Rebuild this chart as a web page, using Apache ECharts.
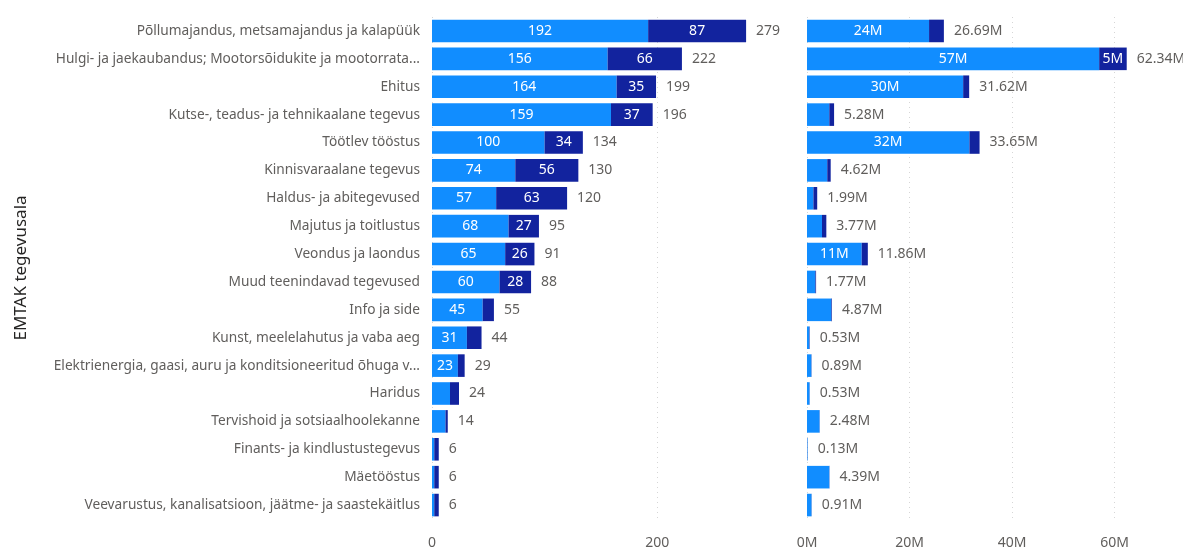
<!DOCTYPE html>
<html>
<head>
<meta charset="utf-8">
<script src="https://cdn.jsdelivr.net/npm/echarts@6/dist/echarts.min.js"></script>
<style>
  html, body { margin: 0; padding: 0; background: #fff; }
  #chart { width: 1183px; height: 550px; }
</style>
</head>
<body>
<div id="chart"></div>
<script>
// EMTAK tegevusalad (ülevalt alla)
const categories = [
  'Põllumajandus, metsamajandus ja kalapüük',
  'Hulgi- ja jaekaubandus; Mootorsõidukite ja mootorrata...',
  'Ehitus',
  'Kutse-, teadus- ja tehnikaalane tegevus',
  'Töötlev tööstus',
  'Kinnisvaraalane tegevus',
  'Haldus- ja abitegevused',
  'Majutus ja toitlustus',
  'Veondus ja laondus',
  'Muud teenindavad tegevused',
  'Info ja side',
  'Kunst, meelelahutus ja vaba aeg',
  'Elektrienergia, gaasi, auru ja konditsioneeritud õhuga v...',
  'Haridus',
  'Tervishoid ja sotsiaalhoolekanne',
  'Finants- ja kindlustustegevus',
  'Mäetööstus',
  'Veevarustus, kanalisatsioon, jäätme- ja saastekäitlus'
];

// vasak paneel – arv (hele + tume)
const countLight = [192, 156, 164, 159, 100, 74, 57, 68, 65, 60, 45, 31, 23, 16, 12, 2, 2, 2];
const countDark  = [87, 66, 35, 37, 34, 56, 63, 27, 26, 28, 10, 13, 6, 8, 2, 4, 4, 4];

// parem paneel – miljonites (hele + tume)
const turnoverLight = [23.8, 56.97, 30.45, 4.35, 31.67, 3.95, 1.25, 2.93, 10.67, 1.63, 4.75, 0.45, 0.85, 0.5, 2.45, 0.1, 4.35, 0.88];
const turnoverDark  = [2.89, 5.37, 1.17, 0.93, 1.98, 0.67, 0.74, 0.84, 1.19, 0.14, 0.12, 0.08, 0.04, 0.03, 0.03, 0.03, 0.04, 0.03];

const countTicks = [0, 200];
const turnoverTicks = [0, 20, 40, 60];

const LIGHT = '#118DFF';
const DARK = '#12239E';
const GREY = '#605E5C';
const FONT = "'Segoe UI', 'Noto Sans', sans-serif";

const chart = echarts.init(document.getElementById('chart'));

const splitLine = {
  show: true, showMinLine: true, showMaxLine: false,
  lineStyle: { color: '#D6D6D6', type: [1, 4], width: 1 }
};

const inside = (min, fmt) => ({
  show: true, position: 'inside', color: '#fff', fontSize: 14, fontFamily: FONT,
  formatter: p => (p.value >= min ? fmt(p.value) : '')
});

chart.setOption({
  animation: false,
  grid: [
    { left: 432, top: 17, width: 349, bottom: 28 },
    { left: 807, top: 17, width: 359, bottom: 28 }
  ],
  xAxis: [
    {
      gridIndex: 0, type: 'value', min: 0, max: 310, interval: 200,
      axisLine: { show: false }, axisTick: { show: false },
      axisLabel: { color: GREY, fontSize: 14, fontFamily: FONT, margin: 17, showMaxLabel: false,
        formatter: v => (countTicks.includes(v) ? String(v) : '') },
      splitLine
    },
    {
      gridIndex: 1, type: 'value', min: 0, max: 70, interval: 20,
      axisLine: { show: false }, axisTick: { show: false },
      axisLabel: { color: GREY, fontSize: 14, fontFamily: FONT, margin: 17, showMaxLabel: false,
        formatter: v => (turnoverTicks.includes(v) ? v + 'M' : '') },
      splitLine
    }
  ],
  yAxis: [
    {
      gridIndex: 0, type: 'category', data: categories, inverse: true,
      axisLine: { show: false }, axisTick: { show: false },
      axisLabel: { color: GREY, fontSize: 13.7, fontFamily: FONT, margin: 12 },
      name: 'EMTAK tegevusala', nameLocation: 'middle', nameGap: 402, nameRotate: 90,
      nameTextStyle: { color: '#252423', fontSize: 17, fontFamily: FONT }
    },
    {
      gridIndex: 1, type: 'category', data: categories, inverse: true,
      axisLine: { show: false }, axisTick: { show: false }, axisLabel: { show: false }
    }
  ],
  series: [
    {
      type: 'bar', stack: 'c', xAxisIndex: 0, yAxisIndex: 0, data: countLight,
      barCategoryGap: '19%', itemStyle: { color: LIGHT },
      label: inside(20, v => String(v))
    },
    {
      type: 'bar', stack: 'c', xAxisIndex: 0, yAxisIndex: 0, data: countDark,
      itemStyle: { color: DARK },
      label: inside(20, v => String(v))
    },
    {
      type: 'bar', stack: 'c', xAxisIndex: 0, yAxisIndex: 0,
      data: countLight.map(() => 0),
      itemStyle: { color: 'transparent' },
      label: {
        show: true, position: 'right', distance: 10, color: GREY, fontSize: 14, fontFamily: FONT,
        formatter: p => String(countLight[p.dataIndex] + countDark[p.dataIndex])
      }
    },
    {
      type: 'bar', stack: 't', xAxisIndex: 1, yAxisIndex: 1, data: turnoverLight,
      barCategoryGap: '19%', itemStyle: { color: LIGHT },
      label: inside(5, v => Math.round(v) + 'M')
    },
    {
      type: 'bar', stack: 't', xAxisIndex: 1, yAxisIndex: 1, data: turnoverDark,
      itemStyle: { color: DARK },
      label: inside(5, v => Math.round(v) + 'M')
    },
    {
      type: 'bar', stack: 't', xAxisIndex: 1, yAxisIndex: 1,
      data: turnoverLight.map(() => 0),
      itemStyle: { color: 'transparent' },
      label: {
        show: true, position: 'right', distance: 10, color: GREY, fontSize: 14, fontFamily: FONT,
        formatter: p => (turnoverLight[p.dataIndex] + turnoverDark[p.dataIndex]).toFixed(2) + 'M'
      }
    }
  ]
});
</script>
</body>
</html>
